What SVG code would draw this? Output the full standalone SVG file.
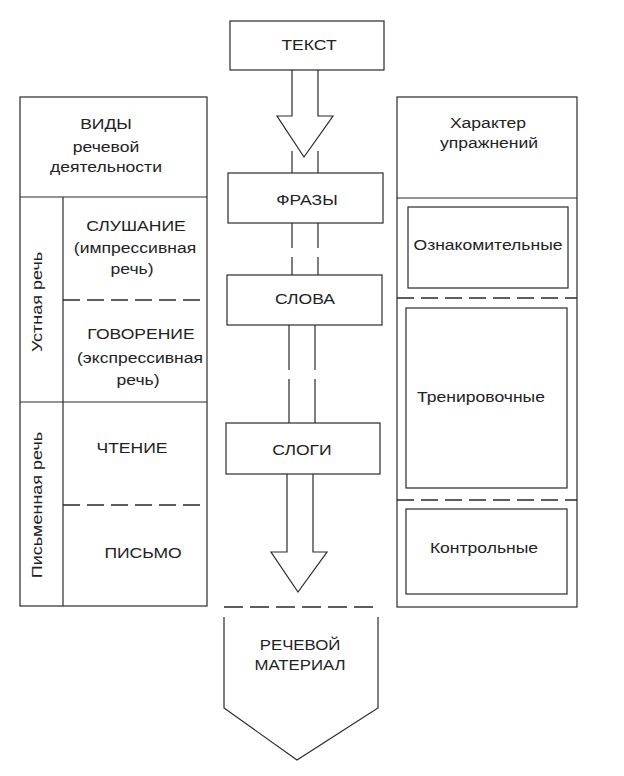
<svg xmlns="http://www.w3.org/2000/svg" width="624" height="776" viewBox="0 0 624 776">
<style>
  .ln{fill:none;stroke:#2a2a2a;stroke-width:1.2}
  .bx{fill:#fff;stroke:#2a2a2a;stroke-width:1.2}
  .ds{fill:none;stroke:#2a2a2a;stroke-width:1.3;stroke-dasharray:17 7}
  .t{font-family:"Liberation Sans",Arial,sans-serif;font-size:15px;fill:#222;text-anchor:middle}
</style>
<rect width="624" height="776" fill="#fff"/>

<g id="connectors">
  <path class="bx" d="M292,70 V116 H277 L304,157 L333,116 H318 V70"/>
  <line class="ln" x1="292" y1="151" x2="292" y2="173"/>
  <line class="ln" x1="318" y1="151" x2="318" y2="173"/>
  <path class="ln" d="M292,223 V248 M292,257 V275 M318,223 V248 M318,257 V275"/>
  <path class="ln" d="M289,325 V370 M289,379 V423 M315,325 V370 M315,379 V423"/>
  <path class="bx" d="M287,474 V552 H271 L298,592 L327,552 H313 V474"/>
</g>

<g id="left-column">
  <rect class="bx" x="20" y="97" width="187" height="509"/>
  <line class="ln" x1="20" y1="197" x2="207" y2="197"/>
  <line class="ln" x1="63" y1="197" x2="63" y2="606"/>
  <line class="ds" x1="63" y1="300" x2="207" y2="300"/>
  <line class="ln" x1="20" y1="402" x2="207" y2="402"/>
  <line class="ds" x1="63" y1="505" x2="207" y2="505"/>
  <text class="t" transform="translate(106,129) scale(1.17,1)">ВИДЫ</text>
  <text class="t" transform="translate(106,152) scale(1.17,1)">речевой</text>
  <text class="t" transform="translate(106,172) scale(1.17,1)">деятельности</text>
  <text class="t" transform="translate(42,302) rotate(-90) scale(1.2,1)">Устная речь</text>
  <text class="t" transform="translate(42,505) rotate(-90) scale(1.2,1)">Письменная речь</text>
  <text class="t" transform="translate(136,231) scale(1.17,1)">СЛУШАНИЕ</text>
  <text class="t" transform="translate(135,253) scale(1.17,1)">(импрессивная</text>
  <text class="t" transform="translate(132,274) scale(1.17,1)">речь)</text>
  <text class="t" transform="translate(141,339) scale(1.17,1)">ГОВОРЕНИЕ</text>
  <text class="t" transform="translate(140,363) scale(1.17,1)">(экспрессивная</text>
  <text class="t" transform="translate(138,385) scale(1.17,1)">речь)</text>
  <text class="t" transform="translate(132,453) scale(1.17,1)">ЧТЕНИЕ</text>
  <text class="t" transform="translate(143,558) scale(1.17,1)">ПИСЬМО</text>
</g>

<g id="tekst">
  <rect class="bx" x="230" y="21" width="154" height="49"/>
  <text class="t" transform="translate(309,50) scale(1.17,1)">ТЕКСТ</text>
</g>
<g id="frazy">
  <rect class="bx" x="228" y="173" width="155" height="50"/>
  <text class="t" transform="translate(307,205) scale(1.17,1)">ФРАЗЫ</text>
</g>
<g id="slova">
  <rect class="bx" x="227" y="275" width="155" height="50"/>
  <text class="t" transform="translate(305,304) scale(1.17,1)">СЛОВА</text>
</g>
<g id="slogi">
  <rect class="bx" x="226" y="423" width="154" height="51"/>
  <text class="t" transform="translate(302,455) scale(1.17,1)">СЛОГИ</text>
</g>

<g id="rechevoy-material">
  <line class="ds" x1="224" y1="607" x2="380" y2="607" style="stroke-dasharray:19 7"/>
  <path class="ln" d="M224,617 V708 L297,760 L378,708 V617"/>
  <text class="t" transform="translate(300,650) scale(1.12,1)">РЕЧЕВОЙ</text>
  <text class="t" transform="translate(300,670) scale(1.12,1)">МАТЕРИАЛ</text>
</g>

<g id="right-column">
  <rect class="bx" x="397" y="97" width="180" height="510"/>
  <line class="ln" x1="397" y1="198" x2="577" y2="198"/>
  <line class="ds" x1="397" y1="298" x2="577" y2="298"/>
  <line class="ds" x1="397" y1="500" x2="577" y2="500"/>
  <text class="t" transform="translate(488,128) scale(1.17,1)">Характер</text>
  <text class="t" transform="translate(489,148) scale(1.17,1)">упражнений</text>
</g>
<g id="oznakomitelnye">
  <rect class="bx" x="408" y="207" width="160" height="81"/>
  <text class="t" transform="translate(488,250) scale(1.17,1)">Ознакомительные</text>
</g>
<g id="trenirovochnye">
  <rect class="bx" x="406" y="308" width="161" height="180"/>
  <text class="t" transform="translate(481,402) scale(1.17,1)">Тренировочные</text>
</g>
<g id="kontrolnye">
  <rect class="bx" x="406" y="509" width="161" height="85"/>
  <text class="t" transform="translate(484,553) scale(1.17,1)">Контрольные</text>
</g>
</svg>
